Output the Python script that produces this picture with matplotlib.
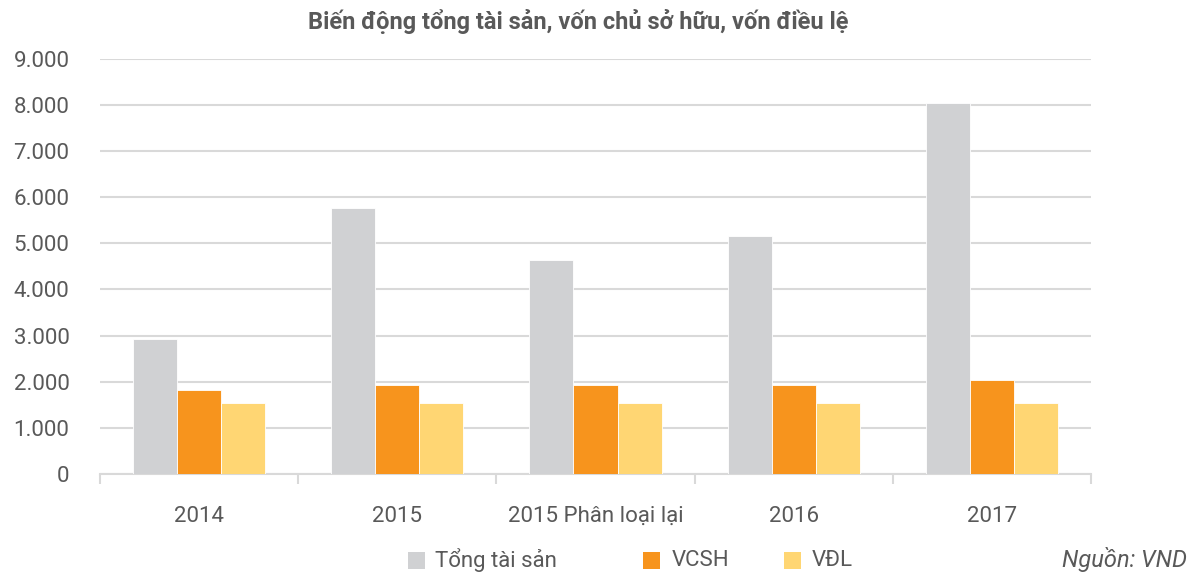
import matplotlib
matplotlib.use("Agg")
import matplotlib.pyplot as plt
import numpy as np
from matplotlib.patches import Rectangle

categories = ["2014", "2015", "2015 Phân loại lại", "2016", "2017"]
tong_tai_san = [2935, 5760, 4640, 5170, 8040]
vcsh = [1820, 1920, 1920, 1920, 2030]
vdl = [1540, 1540, 1540, 1540, 1540]
series_names = ["Tổng tài sản", "VCSH", "VĐL"]
colors = ["#D0D1D3", "#F7941D", "#FFD673"]
yticks = [0, 1000, 2000, 3000, 4000, 5000, 6000, 7000, 8000, 9000]
ytick_labels = ["0", "1.000", "2.000", "3.000", "4.000", "5.000", "6.000", "7.000", "8.000", "9.000"]

plt.rcParams['font.family'] = ['Roboto', 'DejaVu Sans']
text_color = "#595959"
grid_color = "#D9D9D9"
W, H = 1195, 573

fig = plt.figure(figsize=(W / 100, H / 100), dpi=100)
ax = fig.add_axes([100 / W, 1 - 473.8 / H, (1091 - 100) / W, (473.8 - 59) / H])

x = np.arange(len(categories))
w = 0.222
for i, (vals, c) in enumerate(zip([tong_tai_san, vcsh, vdl], colors)):
    ax.bar(x + (i - 1) * w, vals, width=w, color=c, edgecolor="white", linewidth=0.6, zorder=3)

ax.set_xlim(-0.5, len(categories) - 0.5)
ax.set_ylim(0, 9000)
ax.set_yticks(yticks)
ax.set_yticklabels(ytick_labels)
ax.yaxis.grid(True, color=grid_color, linewidth=1.5, zorder=0)
ax.set_axisbelow(True)
for s in ["top", "right", "left"]:
    ax.spines[s].set_visible(False)
ax.spines["bottom"].set_color(grid_color)
ax.spines["bottom"].set_linewidth(1.5)
ax.tick_params(axis="y", length=0, pad=22, labelsize=16, labelcolor=text_color)
ax.set_xticks(x)
ax.set_xticklabels(categories)
ax.tick_params(axis="x", which="major", length=0, pad=23, labelsize=16, labelcolor=text_color)
ax.set_xticks(np.arange(-0.5, len(categories), 1.0), minor=True)
ax.tick_params(axis="x", which="minor", length=7, width=1.5, color=grid_color, direction="out")

fig.text(578 / W, 1 - 22 / H, "Biến động tổng tài sản, vốn chủ sở hữu, vốn điều lệ",
         ha="center", va="center", fontsize=17, fontweight="bold", color=text_color)

# legend drawn manually
leg_y = 560
sq = 17
sq_x = [408, 643, 784]
txt_x = [435, 672, 812]
for name, c, sx, tx in zip(series_names, colors, sq_x, txt_x):
    fig.patches.append(Rectangle((sx / W, 1 - (leg_y + sq / 2) / H), sq / W, sq / H,
                                 transform=fig.transFigure, facecolor=c, edgecolor="none"))
    fig.text(tx / W, 1 - leg_y / H, name, ha="left", va="center", fontsize=16, color=text_color)

fig.text(1187 / W, 1 - leg_y / H, "Nguồn: VND", ha="right", va="center",
         fontsize=17, style="italic", color=text_color)

fig.savefig("out.png", dpi=100)
